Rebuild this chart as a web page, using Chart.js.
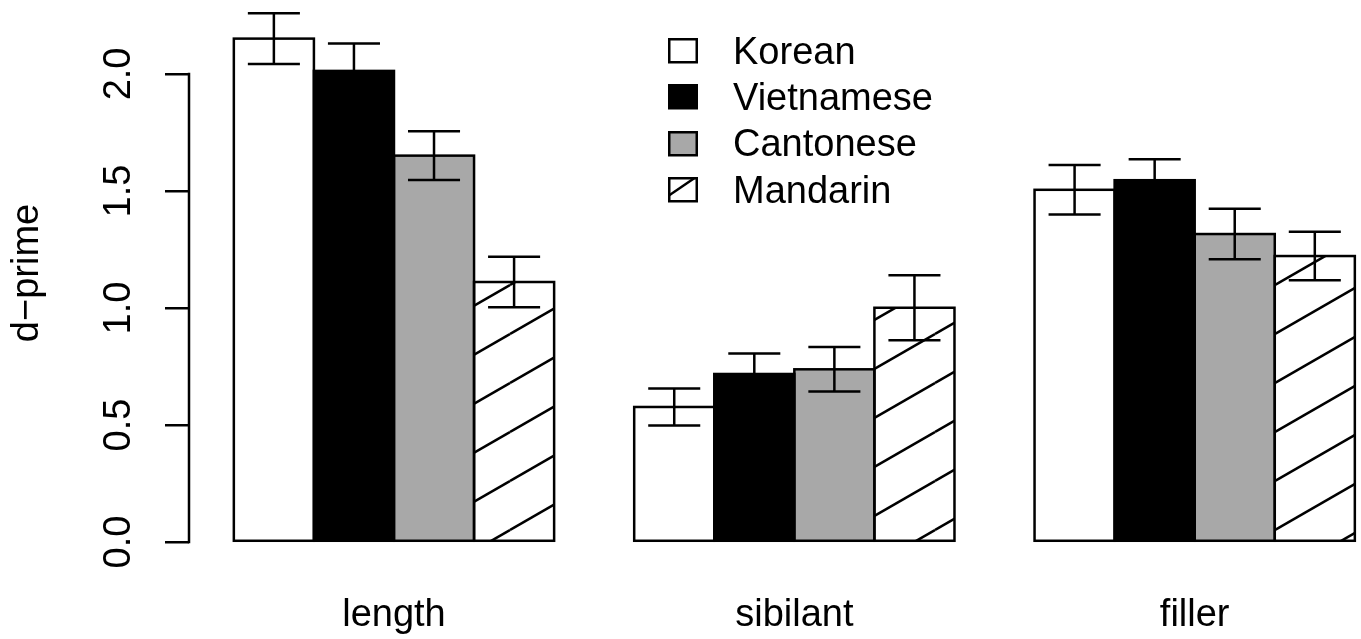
<!DOCTYPE html>
<html>
<head>
<meta charset="utf-8">
<script src="https://cdn.jsdelivr.net/npm/chart.js@4"></script>
<style>
html,body{margin:0;padding:0;background:#fff;overflow:hidden}
#wrap{position:relative;width:1361px;height:639px}
#legend{position:absolute;left:668px;top:28px;font-family:"Liberation Sans",Arial,Helvetica,sans-serif;font-size:38px;color:#000}
.row{display:flex;align-items:center;height:46.3px;white-space:nowrap}
.row canvas{margin-right:35px;display:block}
</style>
</head>
<body>
<div id="wrap"><canvas id="c"></canvas><div id="legend"></div></div>
<script>
// ---- data ----
const categories = ['length', 'sibilant', 'filler'];
const seriesNames = ['Korean', 'Vietnamese', 'Cantonese', 'Mandarin'];
const korean     = [2.151, 0.577, 1.505];
const vietnamese = [2.013, 0.718, 1.546];
const cantonese  = [1.651, 0.738, 1.316];
const mandarin   = [1.111, 1.001, 1.222];
const koreanErr     = [0.108, 0.079, 0.106];
const vietnameseErr = [0.117, 0.088, 0.090];
const cantoneseErr  = [0.104, 0.095, 0.108];
const mandarinErr   = [0.108, 0.139, 0.104];
const yTicks = [0.0, 0.5, 1.0, 1.5, 2.0];
const yTitle = 'd\u2212prime';

// ---- styling ----
const FONT = {family: '"Liberation Sans", Arial, Helvetica, sans-serif', size: 38};
const LW = 2.5;
const values = [korean, vietnamese, cantonese, mandarin];
const errors = [koreanErr, vietnameseErr, cantoneseErr, mandarinErr];

function makeHatch(ctx) {
  const w = 85, h = 49;
  const c = document.createElement('canvas');
  c.width = w; c.height = h;
  const g = c.getContext('2d');
  g.fillStyle = '#ffffff'; g.fillRect(0, 0, w, h);
  g.strokeStyle = '#000'; g.lineWidth = LW;
  for (const dx of [-w, 0, w]) for (const dy of [-h, 0, h]) {
    g.beginPath(); g.moveTo(dx, h + dy); g.lineTo(w + dx, dy); g.stroke();
  }
  const p = ctx.createPattern(c, 'repeat');
  if (p.setTransform) p.setTransform(new DOMMatrix().translate(0, 40));
  return p;
}

const canvas = document.getElementById('c');
const ctx = canvas.getContext('2d');
const hatch = makeHatch(ctx);
const fills = ['#ffffff', '#000000', '#a8a8a8', hatch];

// bar slot positions in R barplot units (space = c(0,1), beside = TRUE)
const slot = (g, s) => 1 + 5 * g + s + 0.5;
const groupCenter = (g) => 1 + 5 * g + 2;

const datasets = seriesNames.map((name, s) => ({
  label: name,
  data: categories.map((c, g) => ({x: slot(g, s), y: values[s][g]})),
  errs: errors[s],
  backgroundColor: fills[s],
  borderWidth: 0,
  grouped: false,
  barPercentage: 1,
  categoryPercentage: 1,
  clip: false
}));

const decorations = {
  id: 'decorations',
  afterDatasetsDraw(chart) {
    const c = chart.ctx;
    const ys = chart.scales.y;
    c.save();
    c.strokeStyle = '#000';
    c.lineWidth = LW;
    c.lineCap = 'butt';
    chart.data.datasets.forEach((ds, i) => {
      const meta = chart.getDatasetMeta(i);
      meta.data.forEach((el) => {
        const p = el.getProps(['x', 'y', 'base', 'width'], true);
        c.strokeRect(p.x - p.width / 2, p.y, p.width, p.base - p.y);
      });
    });
    chart.data.datasets.forEach((ds, i) => {
      const meta = chart.getDatasetMeta(i);
      meta.data.forEach((el, j) => {
        const p = el.getProps(['x', 'width'], true);
        const v = ds.data[j].y, e = ds.errs[j];
        const yHi = ys.getPixelForValue(v + e), yLo = ys.getPixelForValue(v - e);
        const half = p.width * 0.65 / 2;
        c.beginPath();
        c.moveTo(p.x, yHi); c.lineTo(p.x, yLo);
        c.moveTo(p.x - half, yHi); c.lineTo(p.x + half, yHi);
        c.moveTo(p.x - half, yLo); c.lineTo(p.x + half, yLo);
        c.stroke();
      });
    });
    // R-style y axis line from first to last tick
    const x = ys.right;
    c.beginPath();
    c.moveTo(x, ys.getPixelForValue(yTicks[0]) + LW / 2);
    c.lineTo(x, ys.getPixelForValue(yTicks[yTicks.length - 1]) - LW / 2);
    c.stroke();
    c.restore();
  }
};

new Chart(canvas, {
  type: 'bar',
  data: {datasets},
  plugins: [decorations],
  options: {
    responsive: true,
    maintainAspectRatio: false,
    animation: false,
    layout: {padding: 0},
    plugins: {legend: {display: false}, tooltip: {enabled: false}},
    scales: {
      x: {
        type: 'linear',
        offset: false,
        min: 0.44,
        max: 15.077,
        grid: {display: false},
        border: {display: false},
        afterBuildTicks: (s) => { s.ticks = categories.map((c, g) => ({value: groupCenter(g)})); },
        ticks: {
          callback: (v, i) => categories[i],
          font: FONT, color: '#000', padding: 39,
          maxRotation: 0, minRotation: 0, autoSkip: false
        },
        afterFit: (s) => { s.height = 93; s.paddingLeft = 0; s.paddingRight = 0; }
      },
      y: {
        min: -0.017,
        max: 2.316,
        afterBuildTicks: (s) => { s.ticks = yTicks.map(v => ({value: v})); },
        ticks: {
          callback: (v) => Number(v).toFixed(1),
          font: FONT, color: '#000', padding: 19,
          minRotation: 90, maxRotation: 90, crossAlign: 'center', autoSkip: false
        },
        grid: {drawOnChartArea: false, drawTicks: true, tickLength: 24, color: '#000', lineWidth: LW},
        border: {display: false},
        title: {display: true, text: yTitle, font: FONT, color: '#000', padding: {top: 5, bottom: 0}},
        afterFit: (s) => { s.width = 189; s.paddingTop = 0; s.paddingBottom = 0; }
      }
    }
  }
});

// legend (R-style, inside plot)
const legend = document.getElementById('legend');
seriesNames.forEach((name, s) => {
  const row = document.createElement('div');
  row.className = 'row';
  const sw = document.createElement('canvas');
  sw.width = 30; sw.height = 26;
  const g = sw.getContext('2d');
  const bx = 1.25, by = 1.25, bw = 27.5, bh = 23;
  g.fillStyle = s === 3 ? '#ffffff' : fills[s];
  g.fillRect(bx, by, bw, bh);
  if (s === 3) {
    g.save();
    g.beginPath(); g.rect(bx, by, bw, bh); g.clip();
    g.strokeStyle = '#000'; g.lineWidth = LW;
    g.beginPath(); g.moveTo(bx, by + 17); g.lineTo(bx + 25, by); g.stroke();
    g.restore();
  }
  g.strokeStyle = '#000'; g.lineWidth = LW;
  g.strokeRect(bx, by, bw, bh);
  row.appendChild(sw);
  const t = document.createElement('span');
  t.textContent = name;
  row.appendChild(t);
  legend.appendChild(row);
});
</script>
</body>
</html>
